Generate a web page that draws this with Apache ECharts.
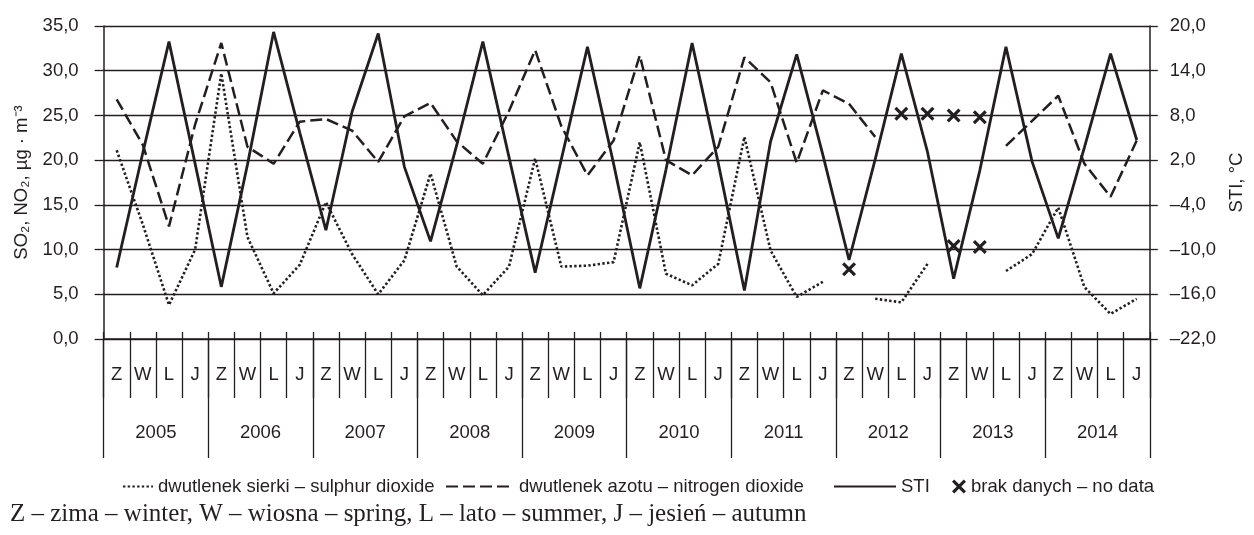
<!DOCTYPE html>
<html>
<head>
<meta charset="utf-8">
<script src="https://cdn.jsdelivr.net/npm/echarts@6/dist/echarts.min.js"></script>
<style>
  html, body { margin: 0; padding: 0; background: #fff; }
  #chart { width: 1254px; height: 535px; }
</style>
</head>
<body>
<div id="chart"></div>
<script>
// seasons per year: Z - winter, W - spring, L - summer, J - autumn
const seasons = ['Z', 'W', 'L', 'J'];
const years = ['2005', '2006', '2007', '2008', '2009', '2010', '2011', '2012', '2013', '2014'];
const quarters = years.flatMap(y => seasons.map(s => y + '-' + s));

// SO2, ug/m3 (left axis)
const so2 = [
  21.1, 12.8, 3.8, 10.0,
  29.7, 11.4, 5.1, 8.3,
  15.3, 9.5, 5.0, 8.8,
  18.5, 8.1, 4.9, 8.1,
  20.2, 8.1, 8.2, 8.6,
  22.0, 7.3, 6.0, 8.4,
  22.6, 9.9, 4.7, 6.4,
  null, 4.5, 4.1, 8.4,
  null, null, 7.6, 9.5,
  14.7, 5.8, 2.8, 4.5
];
// NO2, ug/m3 (left axis)
const no2 = [
  26.8, 21.7, 12.6, 24.0,
  33.1, 21.5, 19.6, 24.3,
  24.6, 23.3, 19.8, 24.9,
  26.4, 22.1, 19.6, 25.5,
  32.3, 23.8, 18.3, 22.2,
  31.7, 20.0, 18.3, 21.5,
  31.5, 28.7, 19.7, 27.8,
  26.3, 22.6, null, null,
  null, null, 21.6, 24.4,
  27.2, 19.6, 15.9, 22.2
];
// STI, deg C (right axis)
const sti = [
  -12.4, 3.0, 17.9, 1.5,
  -15.0, 1.4, 19.2, 5.7,
  -7.4, 8.5, 19.0, 1.1,
  -8.9, 4.0, 17.9, 2.4,
  -13.1, 2.1, 17.2, 1.5,
  -15.2, 0.7, 17.7, 1.6,
  -15.5, 4.5, 16.2, 2.7,
  -11.4, 2.1, 16.3, 3.1,
  -13.9, 0.6, 17.2, 1.8,
  -8.5, 3.7, 16.3, 4.7
];
// "no data" markers (left axis)
const noDataSo2 = [
  null, null, null, null, null, null, null, null, null, null,
  null, null, null, null, null, null, null, null, null, null,
  null, null, null, null, null, null, null, null, 7.8, null,
  null, null, 10.4, 10.3, null, null, null, null, null, null
];
const noDataNo2 = [
  null, null, null, null, null, null, null, null, null, null,
  null, null, null, null, null, null, null, null, null, null,
  null, null, null, null, null, null, null, null, null, null,
  25.2, 25.2, 25.0, 24.8, null, null, null, null, null, null
];

const ink = '#231f20';
const sans = '"Liberation Sans", Arial, sans-serif';
const fs = 18.5;
const xMark = 'path://M0,1.6 L1.6,0 L5,3.4 L8.4,0 L10,1.6 L6.6,5 L10,8.4 L8.4,10 L5,6.6 L1.6,10 L0,8.4 L3.4,5 Z';
const comma = v => v.toFixed(1).replace('.', ',').replace('-', '\u2013');
const noDataName = 'brak danych \u2013 no data';

const legendBase = {
  top: 477, padding: 0, selectedMode: false, itemHeight: 14,
  itemStyle: { color: 'rgba(0,0,0,0)', borderColor: 'rgba(0,0,0,0)', borderWidth: 0 },
  textStyle: { color: ink, fontSize: fs, fontFamily: sans }
};

const chart = echarts.init(document.getElementById('chart'), null, { renderer: 'canvas' });
chart.setOption({
  animation: false,
  textStyle: { fontFamily: sans },
  grid: { left: 103.6, right: 93, top: 26, bottom: 196 },
  legend: [
    Object.assign({}, legendBase, { left: 122, itemWidth: 30, data: ['dwutlenek sierki \u2013 sulphur dioxide'] }),
    Object.assign({}, legendBase, { left: 445, itemWidth: 68, data: ['dwutlenek azotu \u2013 nitrogen dioxide'] }),
    Object.assign({}, legendBase, { left: 833, itemWidth: 62, data: ['STI'] }),
    Object.assign({}, legendBase, {
      left: 952, itemWidth: 14, data: [noDataName],
      itemStyle: { color: ink, opacity: 1 }
    })
  ],
  xAxis: [
    {
      type: 'category', data: quarters, position: 'bottom',
      axisLine: { onZero: false, lineStyle: { color: ink, width: 1.5 } },
      axisTick: { show: true, interval: 0, length: 59, lineStyle: { color: ink, width: 1.3 } },
      axisLabel: { interval: 0, margin: 26, color: ink, fontSize: fs, formatter: v => v.split('-')[1] },
      splitLine: { show: false }
    },
    {
      type: 'category', data: years, position: 'bottom',
      axisLine: { show: false, onZero: false },
      axisTick: { show: true, interval: 0, length: 119, lineStyle: { color: ink, width: 1.3 } },
      axisLabel: { interval: 0, margin: 84, color: ink, fontSize: fs },
      splitLine: { show: false }
    },
    {
      type: 'category', data: quarters, position: 'bottom',
      axisLine: { show: false, onZero: false },
      axisTick: { show: true, inside: true, interval: 0, length: 7, lineStyle: { color: ink, width: 1.3 } },
      axisLabel: { show: false },
      splitLine: { show: false }
    }
  ],
  yAxis: [
    {
      type: 'value', position: 'left', min: 0, max: 35, interval: 5,
      name: 'SO\u2082, NO\u2082, \u00b5g \u00b7 m\u207b\u00b3', nameLocation: 'middle', nameGap: 70, nameRotate: 90,
      nameTextStyle: { color: ink, fontSize: fs, fontFamily: sans },
      axisLine: { show: true, lineStyle: { color: ink, width: 1.5 } },
      axisTick: { show: true, length: 9, lineStyle: { color: ink, width: 1.3 } },
      axisLabel: { margin: 25, color: ink, fontSize: fs, formatter: comma },
      splitLine: { show: true, lineStyle: { color: ink, width: 1.3 } }
    },
    {
      type: 'value', position: 'right', min: -22, max: 20, interval: 6,
      name: 'STI, \u00b0C', nameLocation: 'middle', nameGap: 68, nameRotate: 90,
      nameTextStyle: { color: ink, fontSize: fs, fontFamily: sans },
      axisLine: { show: true, lineStyle: { color: ink, width: 1.5 } },
      axisTick: { show: true, length: 8, lineStyle: { color: ink, width: 1.3 } },
      axisLabel: { margin: 20, color: ink, fontSize: fs, formatter: comma },
      splitLine: { show: false }
    }
  ],
  series: [
    {
      name: 'dwutlenek sierki \u2013 sulphur dioxide', type: 'line', yAxisIndex: 0, data: so2,
      symbol: 'none', connectNulls: false, itemStyle: { color: ink },
      lineStyle: { color: ink, width: 2.6, type: [2.4, 2.3] }
    },
    {
      name: 'dwutlenek azotu \u2013 nitrogen dioxide', type: 'line', yAxisIndex: 0, data: no2,
      symbol: 'none', connectNulls: false, itemStyle: { color: ink },
      lineStyle: { color: ink, width: 2.5, type: [12, 5] }
    },
    {
      name: 'STI', type: 'line', yAxisIndex: 1, data: sti,
      symbol: 'none', itemStyle: { color: ink },
      lineStyle: { color: ink, width: 2.8 }
    },
    {
      name: noDataName, type: 'scatter', yAxisIndex: 0, data: noDataSo2,
      symbol: xMark, symbolSize: 14, itemStyle: { color: ink, opacity: 1 }
    },
    {
      name: noDataName, type: 'scatter', yAxisIndex: 0, data: noDataNo2,
      symbol: xMark, symbolSize: 14, itemStyle: { color: ink, opacity: 1 }
    }
  ],
  graphic: [
    {
      type: 'text', left: 10, top: 502,
      style: {
        text: 'Z \u2013 zima \u2013 winter, W \u2013 wiosna \u2013 spring, L \u2013 lato \u2013 summer, J \u2013 jesie\u0144 \u2013 autumn',
        font: '25px "Liberation Serif", "Times New Roman", serif', fill: ink
      }
    }
  ]
});
</script>
</body>
</html>
